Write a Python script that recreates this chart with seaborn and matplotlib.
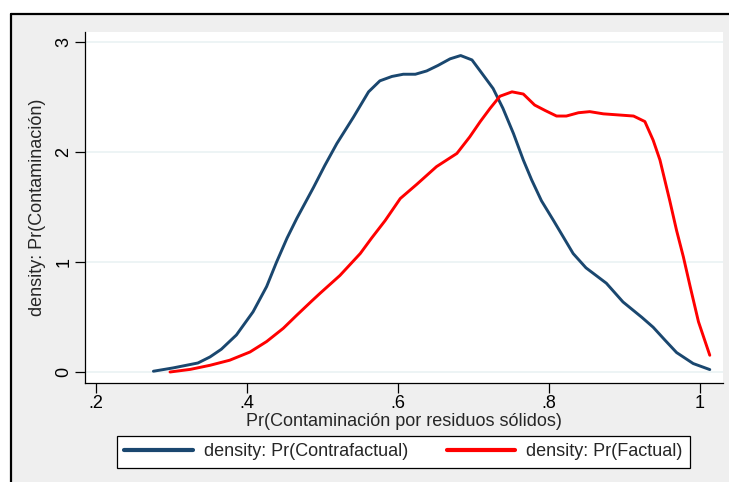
import numpy as np
import pandas as pd
import matplotlib
matplotlib.use('Agg')
import matplotlib.pyplot as plt
import seaborn as sns
from matplotlib.patches import Rectangle
from matplotlib.lines import Line2D

# ─── Data ────────────────────────────────────────────────────────────────────

contra_x = [0.276, 0.302, 0.335, 0.351, 0.366, 0.386, 0.408, 0.426, 0.439, 0.453,
            0.466, 0.477, 0.488, 0.503, 0.519, 0.541, 0.561, 0.576, 0.592, 0.607,
            0.623, 0.638, 0.653, 0.669, 0.683, 0.698, 0.711, 0.726, 0.739, 0.753,
            0.766, 0.777, 0.790, 0.806, 0.819, 0.832, 0.849, 0.876, 0.898, 0.923,
            0.938, 0.954, 0.969, 0.991, 1.013]
contra_y = [0.01, 0.04, 0.085, 0.14, 0.21, 0.34, 0.55, 0.78, 1.00, 1.22,
            1.40, 1.54, 1.68, 1.88, 2.08, 2.32, 2.55, 2.65, 2.69, 2.71,
            2.71, 2.74, 2.79, 2.85, 2.88, 2.84, 2.72, 2.58, 2.40, 2.17,
            1.93, 1.75, 1.56, 1.38, 1.23, 1.08, 0.95, 0.81, 0.64, 0.50,
            0.41, 0.29, 0.18, 0.08, 0.025]

fact_x = [0.298, 0.325, 0.351, 0.377, 0.404, 0.426, 0.448, 0.466, 0.486, 0.497,
          0.523, 0.550, 0.565, 0.583, 0.603, 0.625, 0.651, 0.678, 0.695, 0.709,
          0.722, 0.735, 0.751, 0.766, 0.781, 0.795, 0.810, 0.823, 0.839, 0.854,
          0.872, 0.892, 0.912, 0.927, 0.938, 0.947, 0.960, 0.969, 0.978, 0.987,
          0.998, 1.013]
fact_y = [0.003, 0.027, 0.064, 0.11, 0.185, 0.28, 0.40, 0.52, 0.65, 0.72,
          0.88, 1.08, 1.22, 1.38, 1.58, 1.71, 1.87, 1.99, 2.14, 2.28,
          2.40, 2.51, 2.55, 2.53, 2.43, 2.38, 2.33, 2.33, 2.36, 2.37,
          2.35, 2.34, 2.33, 2.28, 2.11, 1.93, 1.56, 1.29, 1.05, 0.78,
          0.46, 0.155]

series_names = ['density: Pr(Contrafactual)', 'density: Pr(Factual)']
series_colors = ['#1a476f', '#ff0000']

x_ticks = [0.2, 0.4, 0.6, 0.8, 1.0]
x_ticklabels = ['.2', '.4', '.6', '.8', '1']
y_ticks = [0, 1, 2, 3]

df = pd.concat([
    pd.DataFrame({'x': contra_x, 'y': contra_y, 'serie': series_names[0]}),
    pd.DataFrame({'x': fact_x, 'y': fact_y, 'serie': series_names[1]}),
])

# ─── Figure ──────────────────────────────────────────────────────────────────

sns.set_style('white')
plt.rcParams['font.family'] = ['Liberation Sans', 'DejaVu Sans']

W, H = 729, 482
fig = plt.figure(figsize=(W / 100, H / 100), dpi=100, facecolor='white')

# stata-like graph region: gray with a black frame on top/left
fig.patches.append(Rectangle((11 / W, -0.01), 1.0, 1 - 14 / H + 0.01,
                             transform=fig.transFigure, facecolor='#efefef',
                             edgecolor='none', zorder=-5))
fig.add_artist(Line2D([11 / W, 1], [1 - 14 / H, 1 - 14 / H], transform=fig.transFigure,
                      color='black', lw=1.6, zorder=-4))
fig.add_artist(Line2D([11 / W, 11 / W], [0, 1 - 14 / H], transform=fig.transFigure,
                      color='black', lw=1.6, zorder=-4))

ax = fig.add_axes([85 / W, 1 - 383 / H, (723 - 85) / W, (383 - 32) / H])
ax.set_facecolor('white')

sns.lineplot(data=df, x='x', y='y', hue='serie', palette=series_colors,
             sort=False, estimator=None, lw=2.1, ax=ax, legend=False)

ax.set_xlim(0.1854, 1.0305)
ax.set_ylim(-0.097, 3.094)
ax.set_xticks(x_ticks)
ax.set_xticklabels(x_ticklabels)
ax.set_yticks(y_ticks)
ax.set_yticklabels([str(t) for t in y_ticks], rotation=90, va='center')
ax.grid(axis='y', color='#eaf2f3', lw=1.2)
ax.grid(axis='x', visible=False)

for side in ['top', 'right']:
    ax.spines[side].set_visible(False)
for side in ['left', 'bottom']:
    ax.spines[side].set_color('black')
    ax.spines[side].set_linewidth(0.9)
ax.tick_params(axis='both', direction='out', length=7, width=0.9, colors='black',
               labelsize=13, left=True, bottom=True, pad=2)

ax.set_xlabel('Pr(Contaminación por residuos sólidos)', fontsize=13, labelpad=0)
ax.set_ylabel('density: Pr(Contaminación)', fontsize=13, labelpad=7)

handles = [Line2D([], [], color=c, lw=3) for c in series_colors]
leg = fig.legend(handles, series_names, loc='center',
                 bbox_to_anchor=((113 + 694) / 2 / W, 1 - 452 / H),
                 ncol=2, frameon=True, fancybox=False, fontsize=13,
                 handlelength=3.8, columnspacing=2.15, borderpad=0.4,
                 borderaxespad=0, handletextpad=0.6)
leg.get_frame().set_edgecolor('black')
leg.get_frame().set_linewidth(0.9)
leg.get_frame().set_facecolor('white')
leg.get_frame().set_alpha(1)

fig.savefig('out.png', dpi=100)
